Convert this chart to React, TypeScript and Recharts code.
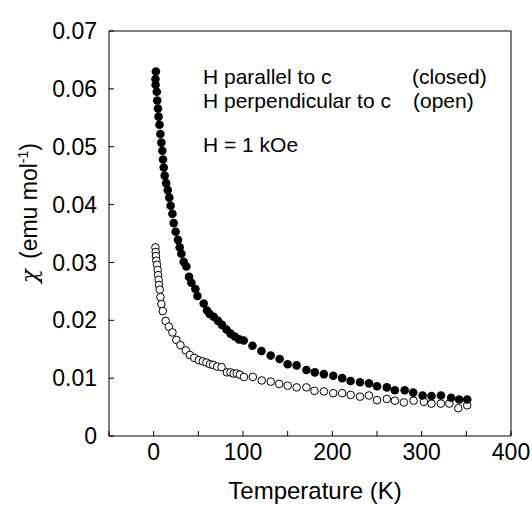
import React from 'react';
import { ScatterChart, Scatter, XAxis, YAxis } from 'recharts';

// H parallel to c (closed symbols)
const tempClosed = [
    2.5, 2, 2.2, 3.5, 4, 4.8, 5.5, 6.5, 7.5, 8.6, 9.7, 10.5, 11.3, 12.3, 14, 15.8, 17.5, 19, 21,
    22.4, 24.6, 27.2, 29.1, 31, 33.6, 36.6, 39.6, 42.2, 46.7, 49, 56, 59.7, 62.7, 67.2, 72, 76.5,
    81.5, 86, 90.8, 95.6, 100.8, 110.6, 120.7, 131, 141, 150, 160, 171, 180.4, 190.5, 201, 211,
    220.4, 231, 241, 250, 261, 270, 281, 290.5, 301, 311, 321.6, 333, 342, 351,
];
const chiClosed = [
    0.063, 0.0617, 0.0607, 0.0595, 0.058, 0.0566, 0.0552, 0.0538, 0.0522, 0.0507, 0.0493, 0.0478,
    0.0464, 0.045, 0.0437, 0.0425, 0.0412, 0.0398, 0.0384,
    0.0368, 0.0353, 0.0339, 0.0326, 0.0315, 0.0301, 0.0293, 0.0275, 0.0265, 0.0254, 0.0242, 0.0229,
    0.0217, 0.0211, 0.0206, 0.0199, 0.0192, 0.0184, 0.0177, 0.0172, 0.0167, 0.0165, 0.0156, 0.0147,
    0.0139, 0.0133, 0.0124, 0.0122, 0.0114, 0.011, 0.0107, 0.0104, 0.01, 0.0095, 0.0093, 0.0091,
    0.0086, 0.0084, 0.0079, 0.0079, 0.0075, 0.007, 0.0069, 0.007, 0.0066, 0.0063, 0.0063,
];

// H perpendicular to c (open symbols)
const tempOpen = [
    2, 2.3, 2.6, 3, 3.7, 4.5, 5, 5.6, 6, 6.8, 7.6, 8.6, 10.2, 13.4, 17, 21, 25.4, 30, 36, 40.5,
    45.5, 50.5, 55, 59, 63, 66.5, 71, 76, 82, 86, 89.5, 93, 96.5, 101, 111, 121, 131, 140.5, 150,
    160, 171, 180, 190.5, 201, 211, 220.5, 231, 241, 250, 261, 270, 280, 291, 302.5, 311, 321.5,
    331, 341, 351,
];
const chiOpen = [
    0.0326, 0.0318, 0.0311, 0.0303, 0.0296, 0.0287, 0.0278, 0.027, 0.0261, 0.0253, 0.024, 0.0228,
    0.0216, 0.0199, 0.0189, 0.0179, 0.0166, 0.0157, 0.0148, 0.014, 0.0135, 0.0131, 0.0129, 0.0127,
    0.0124, 0.0123, 0.012, 0.0119, 0.011, 0.011, 0.0108, 0.0108, 0.0106, 0.0102, 0.0102, 0.0096,
    0.0094, 0.009, 0.0087, 0.0084, 0.0084, 0.0078, 0.0077, 0.0074, 0.0074, 0.0071, 0.0068, 0.007,
    0.0062, 0.0064, 0.0061, 0.0058, 0.0061, 0.0059, 0.0056, 0.0056, 0.0056, 0.0048, 0.0053,
];

const xTicks = [-50, 0, 50, 100, 150, 200, 250, 300, 350, 400];
const yTicks = [0, 0.01, 0.02, 0.03, 0.04, 0.05, 0.06, 0.07];

const closedData = tempClosed.map((t, i) => ({ t, chi: chiClosed[i] }));
const openData = tempOpen.map((t, i) => ({ t, chi: chiOpen[i] }));

const FONT = '"Liberation Sans", Arial, sans-serif';

const ClosedDot = (p: any) => <circle cx={p.cx} cy={p.cy} r={4.3} fill="#000" />;
const OpenDot = (p: any) => <circle cx={p.cx} cy={p.cy} r={3.8} fill="#fff" stroke="#000" strokeWidth={1} />;

const App = () => {
    return (
        <div style={{ position: 'absolute', left: 0, top: 0 }}>
            <ScatterChart width={532} height={505} margin={{ top: 30, right: 20, bottom: 29, left: 39 }} style={{ fontFamily: FONT }}>
                <XAxis
                    dataKey="t"
                    type="number"
                    domain={[-50, 400]}
                    ticks={xTicks}
                    interval={0}
                    allowDataOverflow
                    tickSize={-5}
                    tickMargin={13}
                    height={40}
                    stroke="#000"
                    tick={{ fill: '#000', fontSize: 23 }}
                    tickFormatter={(v: number) => (v >= 0 && v % 100 === 0 ? String(v) : '')}
                />
                <XAxis
                    xAxisId="top"
                    orientation="top"
                    type="number"
                    domain={[-50, 400]}
                    ticks={xTicks}
                    interval={0}
                    allowDataOverflow
                    tickSize={-5}
                    height={1}
                    stroke="#000"
                    tick={false}
                />
                <YAxis
                    dataKey="chi"
                    type="number"
                    domain={[0, 0.07]}
                    ticks={yTicks}
                    interval={0}
                    allowDataOverflow
                    tickSize={-5}
                    tickMargin={17}
                    width={70}
                    stroke="#000"
                    tick={{ fill: '#000', fontSize: 23 }}
                    tickFormatter={(v: number) => (v === 0 ? '0' : v.toFixed(2))}
                />
                <YAxis
                    yAxisId="right"
                    orientation="right"
                    type="number"
                    domain={[0, 0.07]}
                    ticks={yTicks}
                    interval={0}
                    allowDataOverflow
                    tickSize={-5}
                    width={1}
                    stroke="#000"
                    tick={false}
                />
                <Scatter data={openData} dataKey="chi" shape={OpenDot} isAnimationActive={false} />
                <Scatter data={closedData} dataKey="chi" shape={ClosedDot} isAnimationActive={false} />

                <text x={203} y={84} fontSize={21} fontFamily={FONT} fill="#000">H parallel to c</text>
                <text x={412} y={84} fontSize={21} fontFamily={FONT} fill="#000">(closed)</text>
                <text x={203} y={108} fontSize={21} fontFamily={FONT} fill="#000">H perpendicular to c</text>
                <text x={413} y={108} fontSize={21} fontFamily={FONT} fill="#000">(open)</text>
                <text x={203} y={152} fontSize={21} fontFamily={FONT} fill="#000">H = 1 kOe</text>

                <text x={315} y={499} fontSize={24} fontFamily={FONT} fill="#000" textAnchor="middle">Temperature (K)</text>
                <text transform="translate(37,213) rotate(-90)" fontSize={23} fontFamily={FONT} fill="#000" textAnchor="middle">
                    <tspan fontFamily='"DejaVu Serif", serif' fontStyle="italic">χ</tspan>
                    <tspan dx={10}>(emu mol</tspan>
                    <tspan dy={-9} fontSize={14}>-1</tspan>
                    <tspan dy={9}>)</tspan>
                </text>
            </ScatterChart>
        </div>
    );
};

export default App;
